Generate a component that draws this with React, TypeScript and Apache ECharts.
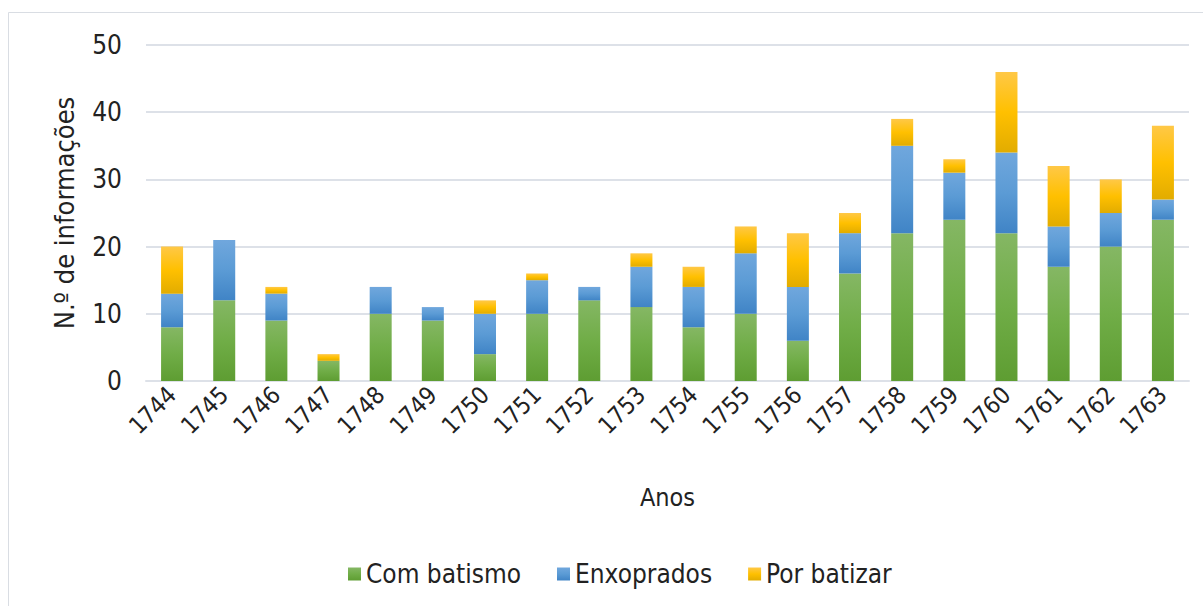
import React, { useEffect, useRef } from "react";
import * as echarts from "echarts";

const years = ["1744","1745","1746","1747","1748","1749","1750","1751","1752","1753","1754","1755","1756","1757","1758","1759","1760","1761","1762","1763"];
const comBatismo = [8,12,9,3,10,9,4,10,12,11,8,10,6,16,22,24,22,17,20,24];
const enxoprados = [5,9,4,0,4,2,6,5,2,6,6,9,8,6,13,7,12,6,5,3];
const porBatizar = [7,0,1,1,0,0,2,1,0,2,3,4,8,3,4,2,12,9,5,11];

const FONT = "'Liberation Sans Narrow', 'DejaVu Sans Condensed', 'Roboto', sans-serif";

function grad(top: string, mid: string, bot: string) {
  return new echarts.graphic.LinearGradient(0, 0, 0, 1, [
    { offset: 0, color: top },
    { offset: 0.5, color: mid },
    { offset: 1, color: bot },
  ]);
}

export default function App() {
  const ref = useRef<HTMLDivElement>(null);
  useEffect(() => {
    const chart = echarts.init(ref.current!, null, { renderer: "svg" });
    const green = grad("#85b764", "#70ad47", "#5e9d32");
    const blue = grad("#70a7dd", "#5b9bd5", "#4084c6");
    const yellow = grad("#ffc847", "#ffc000", "#e2ac00");
    chart.setOption({
      animation: false,
      textStyle: { fontFamily: FONT },
      graphic: [
        {
          type: "rect",
          shape: { x: 8.5, y: 12.5, width: 1200, height: 600 },
          style: { fill: "none", stroke: "#d9dde3", lineWidth: 1 },
          silent: true,
        },
      ],
      grid: { left: 146, right: 14, top: 45, bottom: 225 },
      legend: {
        bottom: 14,
        left: 343,
        itemWidth: 13,
        itemHeight: 13,
        itemGap: 36,
        icon: "rect",
        textStyle: { fontSize: 26, color: "#222", fontFamily: FONT },
        data: ["Com batismo", "Enxoprados", "Por batizar"],
      },
      xAxis: {
        type: "category",
        data: years,
        name: "Anos",
        nameLocation: "middle",
        nameGap: 104,
        nameTextStyle: { fontSize: 25, color: "#222", fontFamily: FONT },
        axisTick: { show: false },
        axisLine: { lineStyle: { color: "#dde1e8", width: 2 } },
        axisLabel: { rotate: 45, fontSize: 24, color: "#222", margin: 10, fontFamily: FONT },
      },
      yAxis: {
        type: "value",
        min: 0,
        max: 50,
        interval: 10,
        name: "N.º de informações",
        nameLocation: "middle",
        nameGap: 68,
        nameTextStyle: { fontSize: 27, color: "#222", fontFamily: FONT },
        axisLabel: { fontSize: 26, color: "#222", margin: 24, fontFamily: FONT },
        axisLine: { show: false },
        axisTick: { show: false },
        splitLine: { lineStyle: { color: "#dde1e8", width: 2 } },
      },
      series: [
        { name: "Com batismo", type: "bar", stack: "a", data: comBatismo, barWidth: 22, itemStyle: { color: green } },
        { name: "Enxoprados", type: "bar", stack: "a", data: enxoprados, barWidth: 22, itemStyle: { color: blue } },
        { name: "Por batizar", type: "bar", stack: "a", data: porBatizar, barWidth: 22, itemStyle: { color: yellow } },
      ],
    });
    return () => chart.dispose();
  }, []);
  return (
    <div
      ref={ref}
      style={{ position: "fixed", left: 0, top: 0, width: 1203, height: 606, background: "#fff" }}
    />
  );
}
